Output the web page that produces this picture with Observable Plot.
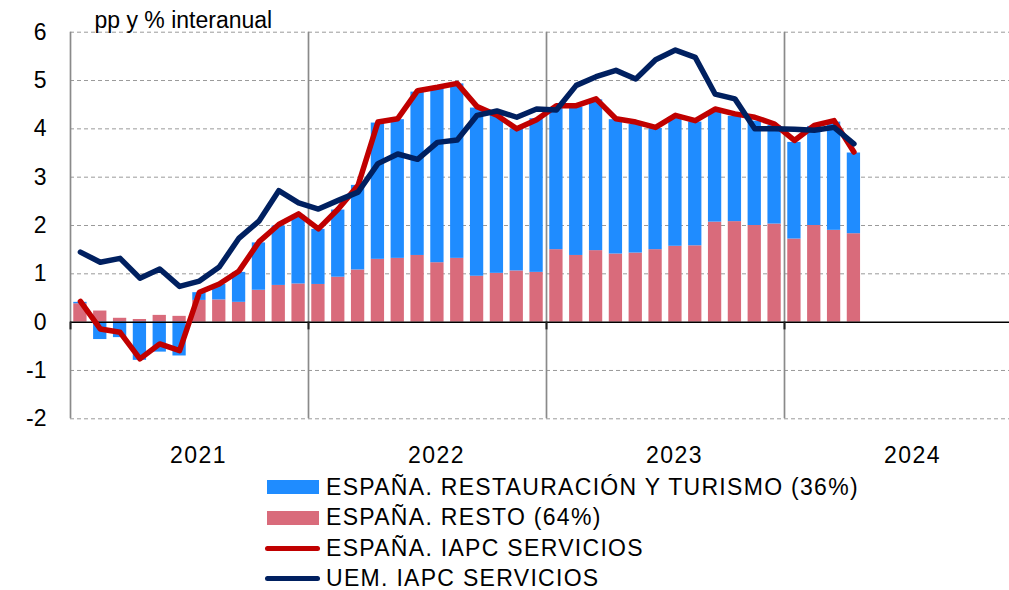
<!DOCTYPE html>
<html>
<head>
<meta charset="utf-8">
<script src="https://cdn.jsdelivr.net/npm/d3@7"></script>
<script src="https://cdn.jsdelivr.net/npm/@observablehq/plot@0.6"></script>
<style>
  html, body { margin: 0; padding: 0; background: #fff; overflow: hidden; }
  body { font-family: "Liberation Sans", Arial, Helvetica, sans-serif; color: #000; }
  #legend { padding-top: 1.7px; }
  .row { display: flex; align-items: center; height: 30.67px; font-size: 23px; }
  .swcell { width: 326px; position: relative; height: 100%; flex: none; }
  .sw { position: absolute; top: 50%; }
  .sw.bar { left: 267px; width: 52px; height: 14px; margin-top: -7px; }
  .sw.line { left: 265px; width: 55px; height: 5px; margin-top: -2.5px; border-radius: 3px; }
  .txt { white-space: nowrap; letter-spacing: 1.3px; }
</style>
</head>
<body>
<div id="chart"></div>
<div id="legend"></div>
<script>
// ---- data ----
const months = [
  "2021-01","2021-02","2021-03","2021-04","2021-05","2021-06","2021-07","2021-08","2021-09","2021-10","2021-11","2021-12",
  "2022-01","2022-02","2022-03","2022-04","2022-05","2022-06","2022-07","2022-08","2022-09","2022-10","2022-11","2022-12",
  "2023-01","2023-02","2023-03","2023-04","2023-05","2023-06","2023-07","2023-08","2023-09","2023-10","2023-11","2023-12",
  "2024-01","2024-02","2024-03","2024-04"
];
// España. Resto (64%) — contribution, pp
const resto = [
  0.38, 0.23, 0.08, 0.055, 0.14, 0.12, 0.45, 0.46, 0.41, 0.66, 0.76, 0.79,
  0.78, 0.93, 1.08, 1.30, 1.32, 1.38, 1.23, 1.32, 0.95, 1.01, 1.06, 1.03,
  1.50, 1.38, 1.48, 1.41, 1.43, 1.50, 1.57, 1.58, 2.07, 2.08, 2.00, 2.03,
  1.72, 2.00, 1.90, 1.83
];
// España. Restauración y turismo (36%) — contribution, pp
const turismo = [
  0.03, -0.36, -0.32, -0.79, -0.62, -0.70, 0.16, 0.32, 0.62, 0.98, 1.23, 1.42,
  1.14, 1.39, 1.75, 2.82, 2.87, 3.38, 3.60, 3.61, 3.48, 3.31, 2.94, 3.18,
  2.93, 3.07, 3.12, 2.78, 2.66, 2.51, 2.67, 2.56, 2.27, 2.18, 2.16, 2.04,
  2.00, 2.05, 2.24, 1.67
];
// España. IAPC servicios, % yoy
const espana = [
  0.43, -0.14, -0.21, -0.76, -0.45, -0.59, 0.62, 0.79, 1.06, 1.66, 2.02, 2.24,
  1.93, 2.34, 2.83, 4.14, 4.21, 4.79, 4.86, 4.94, 4.46, 4.28, 4.00, 4.19,
  4.48, 4.48, 4.62, 4.21, 4.14, 4.03, 4.28, 4.17, 4.41, 4.31, 4.24, 4.10,
  3.76, 4.07, 4.17, 3.52
];
// UEM. IAPC servicios, % yoy
const uem = [
  1.45, 1.24, 1.32, 0.91, 1.10, 0.74, 0.85, 1.14, 1.74, 2.09, 2.72, 2.47,
  2.34, 2.52, 2.69, 3.28, 3.48, 3.37, 3.72, 3.77, 4.28, 4.37, 4.24, 4.41,
  4.39, 4.90, 5.08, 5.21, 5.03, 5.43, 5.63, 5.48, 4.72, 4.62, 4.00, 4.00,
  3.99, 3.97, 4.03, 3.69
];
const yTicks = [-2, -1, 0, 1, 2, 3, 4, 5, 6];
const years = [2021, 2022, 2023, 2024];
const yearLabels = ["2021", "2022", "2023", "2024"];
const subtitle = "pp y % interanual";
const seriesNames = [
  "ESPAÑA. RESTAURACIÓN Y TURISMO (36%)",
  "ESPAÑA. RESTO (64%)",
  "ESPAÑA. IAPC SERVICIOS",
  "UEM. IAPC SERVICIOS"
];
const colors = ["#1f8cff", "#d96b7b", "#c00000", "#002060"];

// ---- derived tables ----
const pos = m => { const [y, mo] = m.split("-").map(Number); return y + (mo - 0.5) / 12; };
const halfW = 0.335 / 12;
const rows = months.map((m, i) => ({t: pos(m), resto: resto[i], tur: turismo[i], esp: espana[i], uem: uem[i]}));
const restoBars = rows.map(d => ({x1: d.t - halfW, x2: d.t + halfW, y1: 0, y2: d.resto}));
const turBars = rows.map(d => d.tur >= 0
  ? {x1: d.t - halfW, x2: d.t + halfW, y1: d.resto, y2: d.resto + d.tur}
  : {x1: d.t - halfW, x2: d.t + halfW, y1: 0, y2: d.tur});

const W = 1009, H = 470, ML = 70, MT = 31.7, MB = 51.7;
const yearPx = 238;
const xEnd = 2021 + (W - ML) / yearPx;

const chart = Plot.plot({
  width: W, height: H,
  marginLeft: ML, marginRight: 0, marginTop: MT, marginBottom: MB,
  x: {domain: [2021, xEnd], axis: null},
  y: {domain: [-2, 6], axis: null},
  style: {fontFamily: '"Liberation Sans", Arial, Helvetica, sans-serif', fontSize: "23px", color: "#000", background: "#fff"},
  marks: [
    Plot.ruleY(yTicks.filter(d => d !== 0), {stroke: "#9a9a9a", strokeWidth: 1, strokeDasharray: "4,3"}),
    Plot.ruleX(years, {stroke: "#8a8a8a", strokeWidth: 1.7}),
    Plot.rect(restoBars, {x1: "x1", x2: "x2", y1: "y1", y2: "y2", fill: colors[1]}),
    Plot.rect(turBars, {x1: "x1", x2: "x2", y1: "y1", y2: "y2", fill: colors[0]}),
    Plot.ruleY([0], {stroke: "#000", strokeWidth: 1.5}),
    Plot.ruleX(years, {y1: 0, y2: -0.16, stroke: "#222", strokeWidth: 2}),
    Plot.line(rows, {x: "t", y: "esp", stroke: colors[2], strokeWidth: 5.5}),
    Plot.line(rows, {x: "t", y: "uem", stroke: colors[3], strokeWidth: 5.5}),
    Plot.axisY(yTicks, {tickSize: 0, tickPadding: 24, tickFormat: d => String(d), fontSize: 23, label: null}),
    Plot.axisX(years.map(y => y + 0.5), {tickSize: 0, tickPadding: 28, dx: 9, tickFormat: (d, i) => yearLabels[i], fontSize: 23, label: null}),
    Plot.text([subtitle], {frameAnchor: "top-left", dx: 24, dy: -4.7, textAnchor: "start", lineAnchor: "bottom", fontSize: 23, fill: "#000"})
  ]
});
d3.select(chart).selectAll('g[aria-label="x-axis tick label"] text').attr("letter-spacing", "1.5px");
document.getElementById("chart").appendChild(chart);

// ---- legend ----
const legend = document.getElementById("legend");
const kinds = ["bar", "bar", "line", "line"];
seriesNames.forEach((name, i) => {
  const row = document.createElement("div");
  row.className = "row";
  const cell = document.createElement("div");
  cell.className = "swcell";
  const sw = document.createElement("div");
  sw.className = "sw " + kinds[i];
  sw.style.background = colors[i];
  cell.appendChild(sw);
  const txt = document.createElement("span");
  txt.className = "txt";
  txt.textContent = name;
  row.appendChild(cell);
  row.appendChild(txt);
  legend.appendChild(row);
});
</script>
</body>
</html>
